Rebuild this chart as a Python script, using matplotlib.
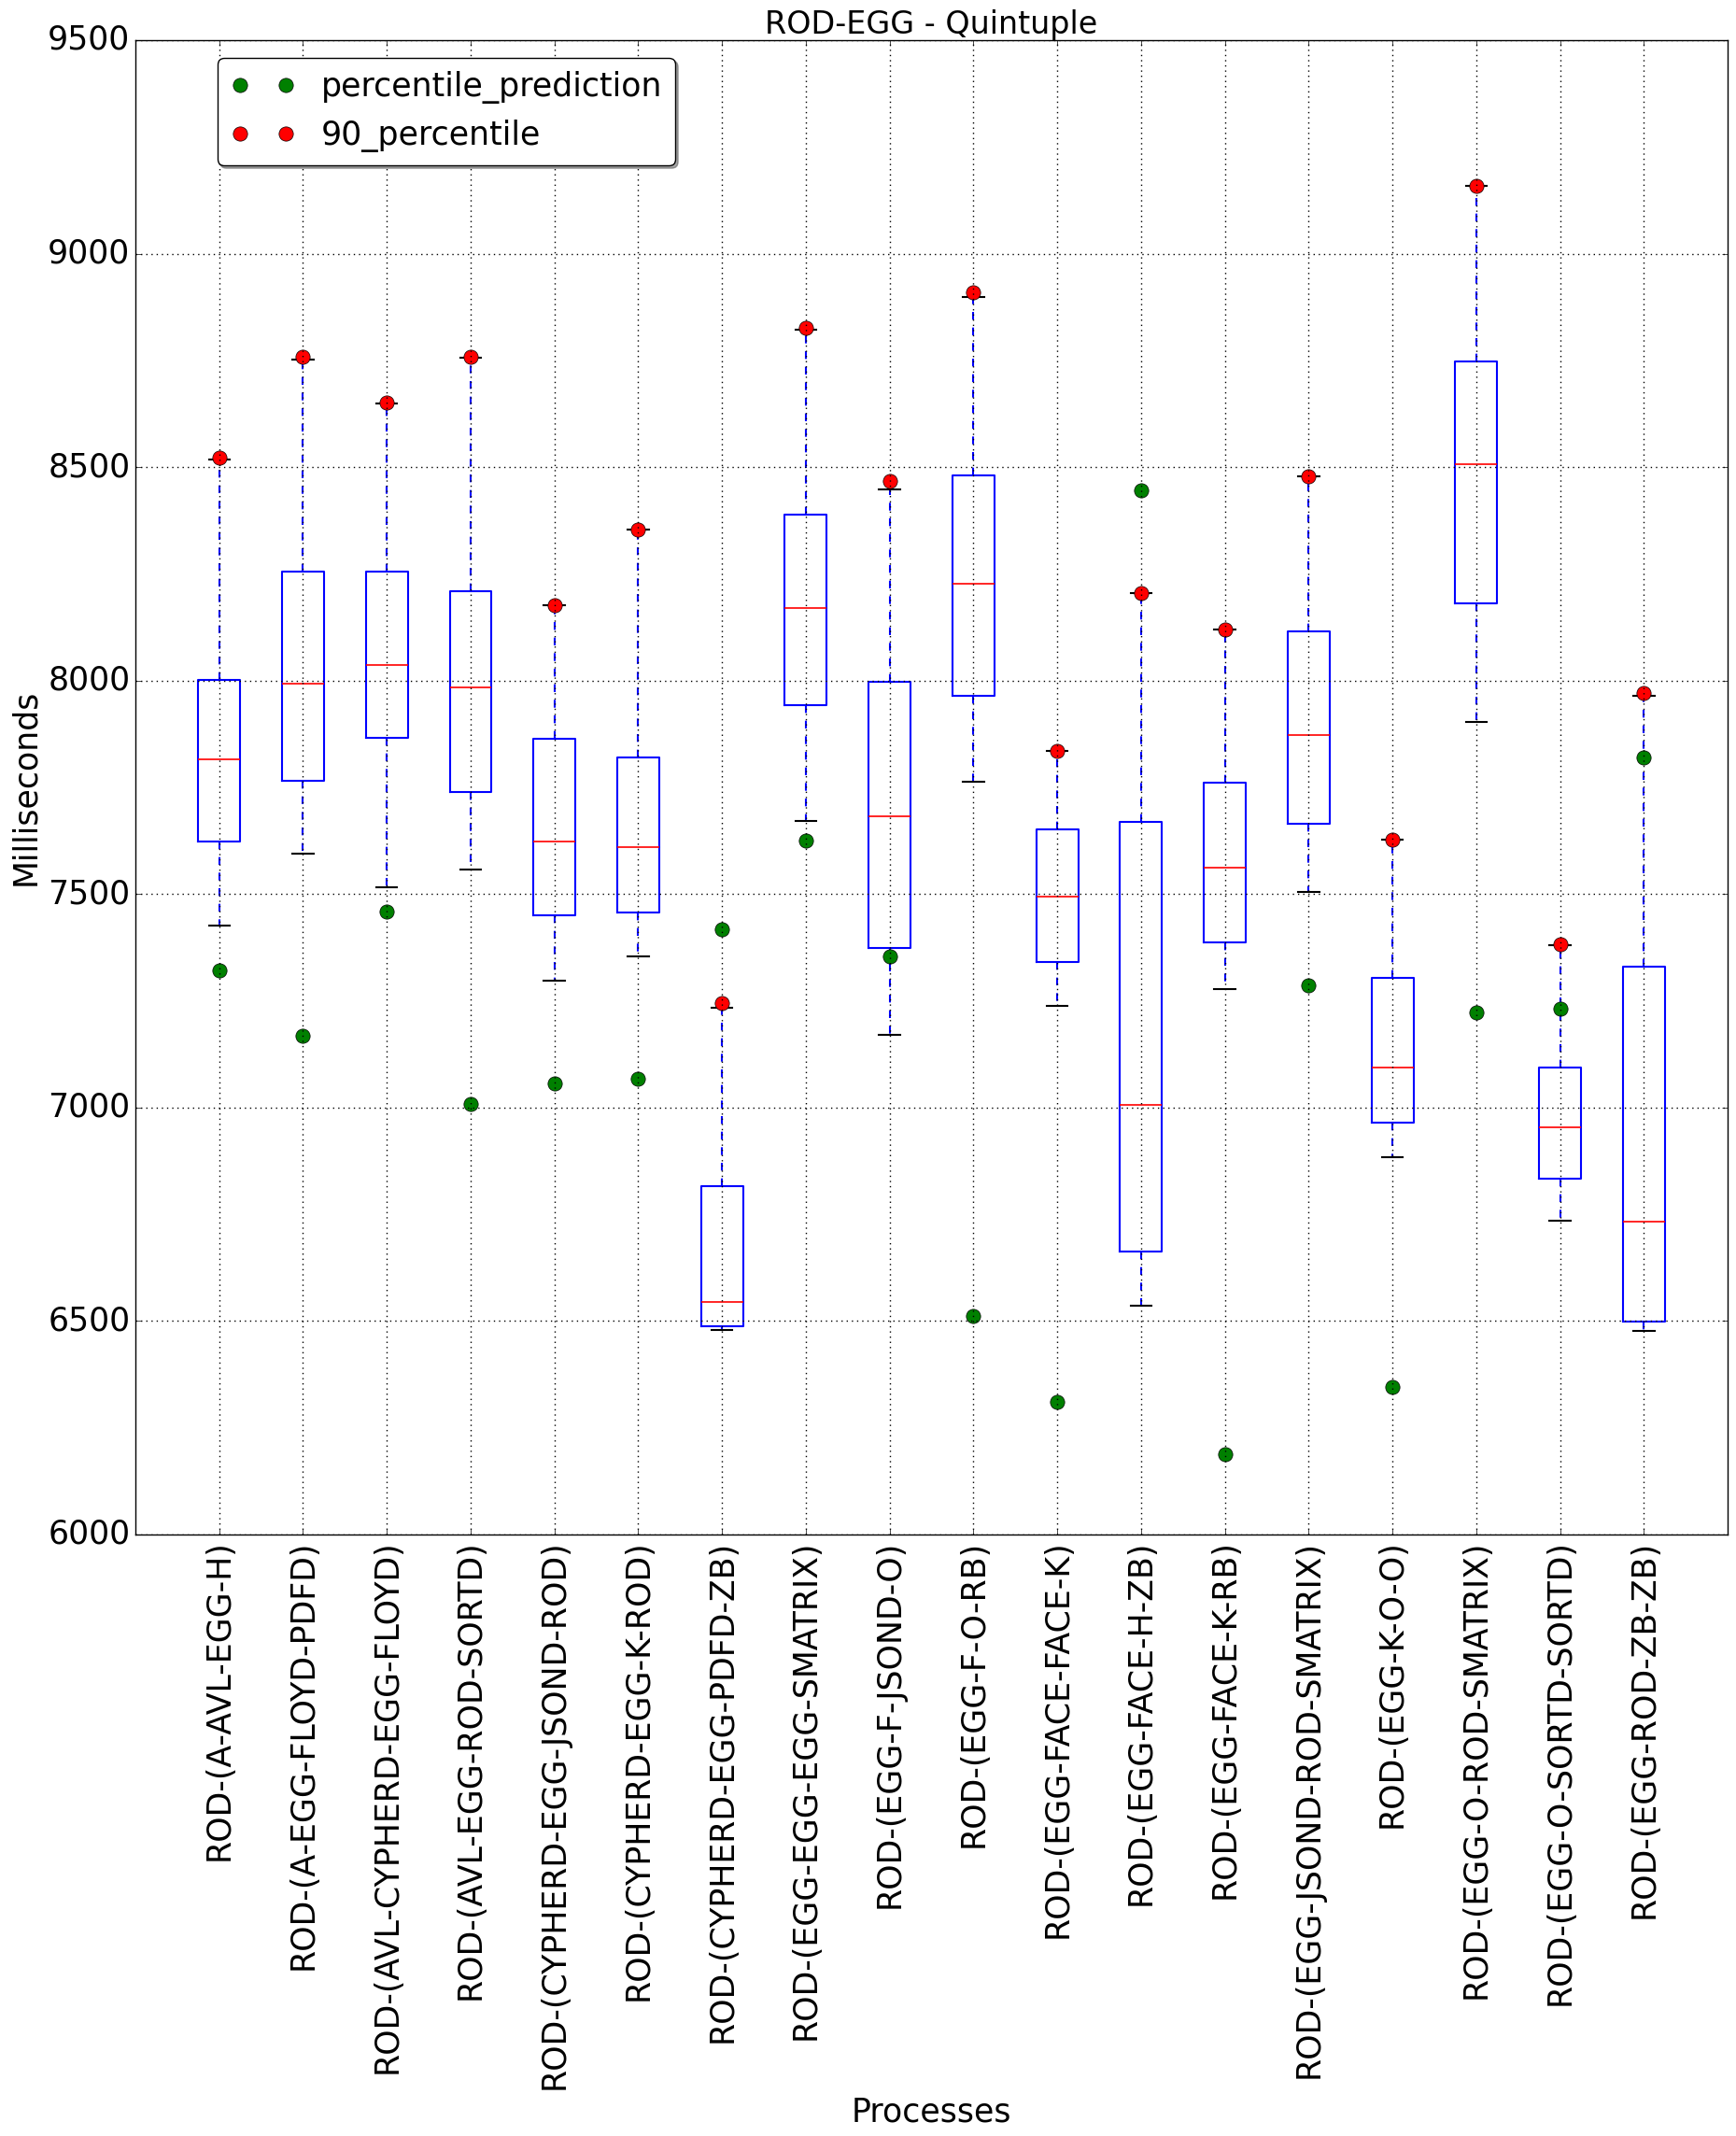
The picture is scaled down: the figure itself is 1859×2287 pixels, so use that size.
import matplotlib
matplotlib.use("Agg")
import matplotlib.pyplot as plt
import numpy as np

names = ["ROD-(A-AVL-EGG-H)", "ROD-(A-EGG-FLOYD-PDFD)", "ROD-(AVL-CYPHERD-EGG-FLOYD)",
         "ROD-(AVL-EGG-ROD-SORTD)", "ROD-(CYPHERD-EGG-JSOND-ROD)", "ROD-(CYPHERD-EGG-K-ROD)",
         "ROD-(CYPHERD-EGG-PDFD-ZB)", "ROD-(EGG-EGG-EGG-SMATRIX)", "ROD-(EGG-F-JSOND-O)",
         "ROD-(EGG-F-O-RB)", "ROD-(EGG-FACE-FACE-K)", "ROD-(EGG-FACE-H-ZB)",
         "ROD-(EGG-FACE-K-RB)", "ROD-(EGG-JSOND-ROD-SMATRIX)", "ROD-(EGG-K-O-O)",
         "ROD-(EGG-O-ROD-SMATRIX)", "ROD-(EGG-O-SORTD-SORTD)", "ROD-(EGG-ROD-ZB-ZB)"]

whislo = [7426, 7595, 7516, 7558, 7297, 7354, 6478, 7672, 7171, 7764, 7238, 6535, 7277, 7506, 6883, 7904, 6736, 6477]
q1 = [7624, 7766, 7865, 7739, 7451, 7456, 6487, 7943, 7374, 7965, 7342, 6662, 7387, 7664, 6965, 8180, 6833, 6498]
med = [7815, 7993, 8037, 7984, 7623, 7611, 6545, 8170, 7682, 8227, 7494, 7006, 7561, 7873, 7094, 8506, 6953, 6733]
q3 = [8001, 8255, 8255, 8209, 7863, 7819, 6815, 8389, 7998, 8480, 7652, 7670, 7762, 8115, 7303, 8748, 7094, 7329]
whishi = [8518, 8751, 8650, 8757, 8176, 8354, 7233, 8822, 8448, 8898, 7836, 8205, 8119, 8479, 7627, 9158, 7380, 7965]
p90 = [8522, 8758, 8652, 8758, 8176, 8354, 7244, 8826, 8468, 8910, 7836, 8205, 8119, 8479, 7627, 9158, 7382, 7971]
pred = [7321, 7169, 7460, 7009, 7057, 7067, 7418, 7626, 7354, 6512, 6311, 8445, 6189, 7287, 6346, 7223, 7232, 7820]

plt.style.use("classic")
plt.rcParams["font.family"] = "DejaVu Sans"

fig = plt.figure(figsize=(18.59, 22.87), dpi=100, facecolor="white")
ax = fig.add_subplot(111)
fig.subplots_adjust(left=0.078, right=0.9952, top=0.9812, bottom=0.2816)

stats = []
for i in range(len(names)):
    stats.append({"whislo": whislo[i], "q1": q1[i], "med": med[i], "q3": q3[i],
                  "whishi": whishi[i], "fliers": [], "label": names[i]})

pos = np.arange(1, len(names) + 1)
ax.bxp(stats, positions=pos, widths=0.5, showfliers=False,
       boxprops=dict(color="b", linewidth=1.5),
       whiskerprops=dict(color="b", linestyle="--", linewidth=1.5),
       capprops=dict(color="k", linewidth=1.5),
       medianprops=dict(color="r", linewidth=1.2))

ax.plot(pos, pred, "o", color="green", mec="k", mew=0.5, ms=11,
        label="percentile_prediction")
ax.plot(pos, p90, "o", color="red", mec="k", mew=0.5, ms=11,
        label="90_percentile")

ax.set_xlim(0, 19)
ax.set_ylim(6000, 9500)
ax.set_yticks(np.arange(6000, 9501, 500))
ax.set_xticks(pos)
ax.set_xticklabels(names, rotation=90, fontsize=25)
ax.tick_params(axis="y", labelsize=25)
ax.grid(True, color="k", linestyle=":", linewidth=1)

ax.set_title("ROD-EGG - Quintuple", fontsize=24)
ax.set_xlabel("Processes", fontsize=25)
ax.set_ylabel("Milliseconds", fontsize=25)

ax.legend(loc="upper left", bbox_to_anchor=(0.0515, 0.988), borderaxespad=0,
          numpoints=2, fancybox=True, shadow=True, fontsize=25)

fig.savefig("out.png", dpi=100, facecolor="white")
